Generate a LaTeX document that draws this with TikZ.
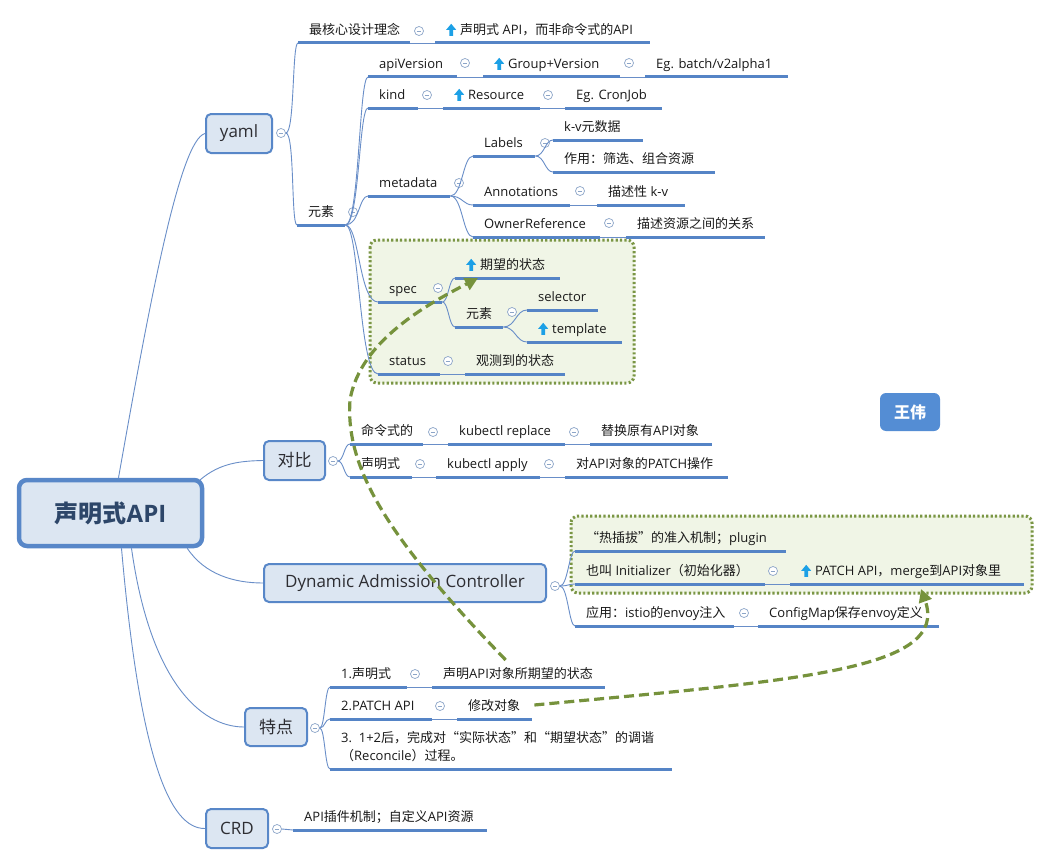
\documentclass[tikz,border=0pt]{standalone}
\usepackage{fontspec}
\setmainfont{Open Sans}
\newfontfamily\zhfont{Noto Sans CJK SC}
\usetikzlibrary{arrows.meta,calc}

% automatic switch to the CJK font for CJK characters
\XeTeXinterchartokenstate=1
\chardef\zhclass=7
\newcount\zhcnt
\zhcnt="4E00
\loop\XeTeXcharclass\zhcnt=\zhclass\ifnum\zhcnt<"9FFF \advance\zhcnt by 1 \repeat
\zhcnt="3000
\loop\XeTeXcharclass\zhcnt=\zhclass\ifnum\zhcnt<"303F \advance\zhcnt by 1 \repeat
\zhcnt="FF00
\loop\XeTeXcharclass\zhcnt=\zhclass\ifnum\zhcnt<"FFEF \advance\zhcnt by 1 \repeat
\XeTeXcharclass"201C=\zhclass
\XeTeXcharclass"201D=\zhclass
\XeTeXinterchartoks 0 \zhclass={\begingroup\zhfont}
\XeTeXinterchartoks 4095 \zhclass={\begingroup\zhfont}
\XeTeXinterchartoks \zhclass 0={\endgroup}
\XeTeXinterchartoks \zhclass 4095={\endgroup}

\definecolor{ulblue}{RGB}{85,132,198}
\definecolor{lnblue}{RGB}{105,142,200}
\definecolor{bxblue}{RGB}{88,135,200}
\definecolor{bxfill}{RGB}{220,230,242}
\definecolor{mnc}{RGB}{140,165,200}
\definecolor{grline}{RGB}{122,150,68}
\definecolor{grfill}{RGB}{240,245,230}
\definecolor{garr}{RGB}{118,146,60}
\definecolor{wwblue}{RGB}{84,141,212}
\definecolor{iconblue}{RGB}{28,160,230}
\definecolor{txt}{RGB}{25,25,25}
\definecolor{tptxt}{RGB}{45,45,50}
\definecolor{roottxt}{RGB}{45,70,105}

\newcommand\upicon{\tikz[baseline=0pt,x=1pt,y=1pt]\fill[iconblue](-1.9,-1.5) rectangle (1.9,5) (-5,4.5) -- (0,10.5) -- (5,4.5) -- cycle;\hspace{4pt}}

\tikzset{
  itm/.style={inner xsep=11pt, inner ysep=5pt, text depth=3.5pt, anchor=south west,
    font=\fontsize{13}{18}\selectfont, text=txt},
  ul/.style={draw=ulblue, line width=3pt},
  conn/.style={draw=lnblue, line width=0.9pt},
  topic/.style={draw=bxblue, line width=2pt, fill=bxfill, rounded corners=5pt,
    font=\fontsize{17}{20}\selectfont, text=tptxt, inner sep=0pt},
  rootbox/.style={draw=bxblue, line width=4.5pt, fill=bxfill, rounded corners=8pt,
    font=\bfseries\fontsize{24}{28}\selectfont, text=roottxt, inner sep=0pt},
  mn/.style={circle, draw=mnc, line width=0.7pt, fill=white, minimum size=9pt, inner sep=0pt,
    path picture={\draw[mnc, line width=0.8pt] ([xshift=-2.4pt]path picture bounding box.center) -- ([xshift=2.4pt]path picture bounding box.center);}},
  grbox/.style={draw=grline, fill=grfill, line width=3pt, dash pattern=on 2.2pt off 2.2pt, rounded corners=7pt},
  garrow/.style={draw=garr, line width=3.2pt, dash pattern=on 10pt off 5pt,
    -{Triangle[length=13pt,width=13pt]}},
  wbox/.style={fill=wwblue, rounded corners=6pt, text=white, font=\bfseries\fontsize{16}{18}\selectfont,
    minimum width=60pt, minimum height=38pt, inner sep=0pt}
}

% [opts]{name}{x left}{x right}{y of underline}{text}
\newcommand\itm[6][]{%
  \node[itm,#1] (#2) at (#3,#5) {\makebox[\dimexpr#4pt-#3pt-22pt\relax][l]{#6}};
  \draw[ul] (#2.south west) -- (#2.south east);}

\begin{document}
\begin{tikzpicture}[x=1pt,y=-1pt]
\useasboundingbox (0,0) rectangle (1050,867);
\fill[white] (0,0) rectangle (1050,867);

% group boundaries
\draw[grbox] (370,240) rectangle (634,383);
\draw[grbox] (571,516) rectangle (1032,593);

% root and main topics
\node[rootbox, minimum width=183pt, minimum height=66pt] (root) at (110.5,513) {声明式API};
\node[topic, minimum width=66pt, minimum height=39pt] (yaml) at (239,133.5) {yaml};
\node[topic, minimum width=61pt, minimum height=39pt] (db) at (294.5,460.5) {对比};
\node[topic, minimum width=282pt, minimum height=38pt] (dac) at (405,583) {Dynamic Admission Controller};
\node[topic, minimum width=62pt, minimum height=38pt] (td) at (276,727) {特点};
\node[topic, minimum width=62pt, minimum height=39pt] (crd) at (237,828.5) {CRD};
\node[wbox] (ww) at (910,412) {王伟};

\draw[conn] ([xshift=8pt]root.north) .. controls (150,300) and (180,140) .. (yaml.west);
\draw[conn] ([shift={(-4,2)}]root.north east) .. controls (220,463) and (240,461) .. (db.west);
\draw[conn] ([shift={(-17,0)}]root.south east) .. controls (205,575) and (235,583) .. (dac.west);
\draw[conn] ([xshift=21pt]root.south) .. controls (150,680) and (200,727) .. (td.west);
\draw[conn] ([xshift=11pt]root.south) .. controls (140,760) and (170,829) .. (crd.west);

\node[mn] (c-yaml) at (281,133) {};
\node[mn] (c-db) at (333,461) {};
\node[mn] (c-dac) at (555,586) {};
\node[mn] (c-td) at (315,728) {};
\node[mn] (c-crd) at (277,829) {};

% ---- yaml
\itm{hx}{298}{410}{43}{最核心设计理念}
\node[mn] (m-hx) at (419,31) {};
\itm{hxv}{435}{650}{43}{\upicon 声明式 API，而非命令式的API}
\itm{ys}{297}{345}{225}{元素}
\node[mn] (m-ys) at (353,212) {};
\itm{apiV}{368}{457}{77}{apiVersion}
\node[mn] (m-apiV) at (465,63) {};
\itm{gv}{483}{620}{77}{\upicon Group+Version}
\node[mn] (m-gv) at (629,63) {};
\itm{egb}{645}{788}{77}{Eg. batch/v2alpha1}
\itm{kind}{368}{418}{108}{kind}
\node[mn] (m-kind) at (427,95) {};
\itm{res}{443}{540}{108}{\upicon Resource}
\node[mn] (m-res) at (548,95) {};
\itm{egc}{565}{662}{108}{Eg. CronJob}
\itm{meta}{368}{450}{196}{metadata}
\node[mn] (m-meta) at (459,183) {};
\itm{lab}{473}{535}{156}{Labels}
\node[mn] (m-lab) at (545,143) {};
\itm{kv}{553}{643}{140}{k-v元数据}
\itm{zy}{553}{715}{172}{作用：筛选、组合资源}
\itm{ann}{473}{570}{205}{Annotations}
\node[mn] (m-ann) at (580,191) {};
\itm{ms}{597}{685}{205}{描述性 k-v}
\itm{own}{473}{600}{237}{OwnerReference}
\node[mn] (m-own) at (609,223) {};
\itm{ms2}{626}{765}{237}{描述资源之间的关系}
\itm{spec}{378}{442}{302}{spec}
\node[mn] (m-spec) at (438,288) {};
\itm{qw}{455}{560}{278}{\upicon 期望的状态}
\itm{ys2}{455}{503}{327}{元素}
\node[mn] (m-ys2) at (512,312) {};
\itm{sel}{527}{598}{310}{selector}
\itm{tpl}{527}{622}{342}{\upicon template}
\itm{sta}{378}{440}{374}{status}
\node[mn] (m-sta) at (448,361) {};
\itm{gc}{465}{565}{374}{观测到的状态}

\draw[conn] (c-yaml.east) .. controls +(9,0) and +(-6,0) .. (hx.south west);
\draw[conn] (c-yaml.east) .. controls +(9,0) and +(-6,0) .. (ys.south west);
\draw[conn] (hx.south east) -- (hxv.south west);
\foreach \c in {apiV,kind,meta}
  \draw[conn] (ys.south east) .. controls +(14,0) and +(-9,0) .. (\c.south west);
\foreach \c in {spec,sta}
  \draw[conn] (ys.south east) .. controls +(14,0) and +(-19,0) .. (\c.south west);
\draw[conn] (apiV.south east) -- (gv.south west);
\draw[conn] (gv.south east) -- (egb.south west);
\draw[conn] (kind.south east) -- (res.south west);
\draw[conn] (res.south east) -- (egc.south west);
\foreach \c in {lab,ann,own}
  \draw[conn] (meta.south east) .. controls +(12,0) and +(-10,0) .. (\c.south west);
\foreach \c in {kv,zy}
  \draw[conn] (lab.south east) .. controls +(9,0) and +(-8,0) .. (\c.south west);
\draw[conn] (ann.south east) -- (ms.south west);
\draw[conn] (own.south east) -- (ms2.south west);
\foreach \c in {qw,ys2}
  \draw[conn] (spec.south east) .. controls +(6,0) and +(-6,0) .. (\c.south west);
\foreach \c in {sel,tpl}
  \draw[conn] (ys2.south east) .. controls +(12,0) and +(-11,0) .. (\c.south west);
\draw[conn] (sta.south east) -- (gc.south west);

% ---- 对比
\itm{mls}{350}{423}{444}{命令式的}
\node[mn] (m-mls) at (433,432) {};
\itm{kr}{448}{565}{444}{kubectl replace}
\node[mn] (m-kr) at (574,432) {};
\itm{th}{590}{712}{444}{替换原有API对象}
\itm{sms}{350}{412}{477}{声明式}
\node[mn] (m-sms) at (420,464) {};
\itm{ka}{436}{540}{477}{kubectl apply}
\node[mn] (m-ka) at (549,464) {};
\itm{dp}{565}{728}{477}{对API对象的PATCH操作}
\foreach \c in {mls,sms}
  \draw[conn] (c-db.east) .. controls +(6,0) and +(-6,0) .. (\c.south west);
\draw[conn] (mls.south east) -- (kr.south west);
\draw[conn] (kr.south east) -- (th.south west);
\draw[conn] (sms.south east) -- (ka.south west);
\draw[conn] (ka.south east) -- (dp.south west);

% ---- Dynamic Admission Controller
\itm{rcb}{575}{786}{551}{“热插拔”的准入机制；plugin}
\itm{yj}{575}{765}{584}{也叫 Initializer（初始化器）}
\node[mn] (m-yj) at (773,571) {};
\itm{pa}{790}{1024}{584}{\upicon PATCH API，merge到API对象里}
\itm{yy}{575}{734}{626}{应用：istio的envoy注入}
\node[mn] (m-yy) at (744,613) {};
\itm{cm}{758}{939}{626}{ConfigMap保存envoy定义}
\foreach \c in {rcb,yj,yy}
  \draw[conn] (c-dac.east) .. controls +(8,0) and +(-6,0) .. (\c.south west);
\draw[conn] (yj.south east) -- (pa.south west);
\draw[conn] (yy.south east) -- (cm.south west);

% ---- 特点
\itm{s1}{330}{407}{687}{1.声明式}
\node[mn] (m-s1) at (415,674) {};
\itm{s1b}{432}{605}{687}{声明API对象所期望的状态}
\itm{s2}{330}{432}{719}{2.PATCH API}
\node[mn] (m-s2) at (440,706) {};
\itm{s2b}{457}{532}{719}{修改对象}
\node[itm, align=left] (s3) at (330,769) {\makebox[320pt][l]{3.\ \ 1+2后，完成对“实际状态”和“期望状态”的调谐}\\（Reconcile）过程。};
\draw[ul] (s3.south west) -- ([xshift=342pt]s3.south west);
\foreach \c in {s1,s2,s3}
  \draw[conn] (c-td.east) .. controls +(5,0) and +(-5,0) .. (\c.south west);
\draw[conn] (s1.south east) -- (s1b.south west);
\draw[conn] (s2.south east) -- (s2b.south west);

% ---- CRD
\itm{crdt}{293}{487}{830}{API插件机制；自定义API资源}
\draw[conn] (c-crd.east) -- (crdt.south west);

% ---- green dashed arrows
\draw[garrow] ([shift={(-13,-27)}]s1b.south) .. controls (390,540) and (345,470) .. (350,400)
   .. controls (360,340) and (430,303) .. ([xshift=23pt]qw.south west);
\draw[garrow] ([shift={(2,-14)}]s2b.south east) .. controls (800,680) and (950,670) .. ([shift={(131,5)}]pa.south west);
\end{tikzpicture}
\end{document}
